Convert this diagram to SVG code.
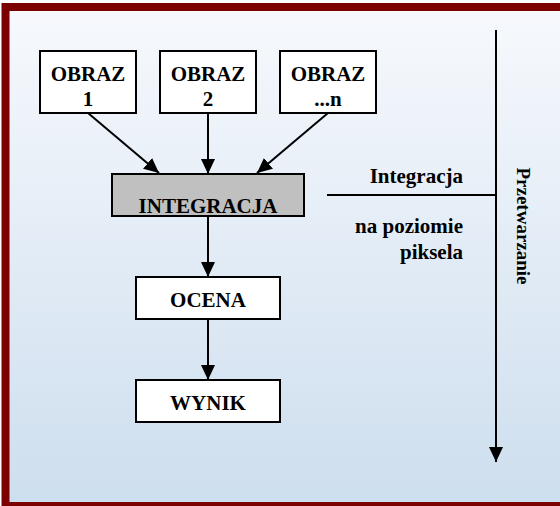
<svg xmlns="http://www.w3.org/2000/svg" width="560" height="506" viewBox="0 0 560 506">
<defs>
<linearGradient id="bg" x1="0" y1="0" x2="0" y2="1">
<stop offset="0" stop-color="#f7f9fd"/>
<stop offset="1" stop-color="#cddeee"/>
</linearGradient>
<marker id="arr" markerUnits="userSpaceOnUse" markerWidth="16" markerHeight="15" refX="15" refY="7" orient="auto">
<path d="M0,0 L15,7 L0,14 Z" fill="#000"/>
</marker>
</defs>
<style>
.box{fill:#fff;stroke:#000;stroke-width:2}
.gray{fill:#c0c0c0}
.t{font-family:"Liberation Serif","Times New Roman",serif;font-weight:bold;font-size:21px;fill:#000}
.c{text-anchor:middle}
.e{text-anchor:end}
.ln{stroke:#000;stroke-width:2;fill:none}
.a{marker-end:url(#arr)}
</style>
<rect x="0" y="0" width="560" height="506" fill="#fff"/>
<rect x="5.5" y="7" width="600" height="499" fill="url(#bg)" stroke="#7d0000" stroke-width="8"/>
<g id="connectors">
<line class="ln a" x1="88" y1="113" x2="159" y2="173"/>
<line class="ln a" x1="208" y1="113" x2="208" y2="174"/>
<line class="ln a" x1="328" y1="113" x2="257" y2="173"/>
<line class="ln a" x1="208" y1="216" x2="208" y2="277"/>
<line class="ln a" x1="208" y1="319" x2="208" y2="380"/>
<line class="ln a" x1="496" y1="30" x2="496" y2="462"/>
<line class="ln" x1="327" y1="195" x2="496" y2="195"/>
</g>
<g id="obraz1">
<rect class="box" x="40" y="51" width="96" height="62"/>
<text class="t c" x="88" y="81">OBRAZ</text>
<text class="t c" x="88" y="106">1</text>
</g>
<g id="obraz2">
<rect class="box" x="160" y="51" width="96" height="62"/>
<text class="t c" x="208" y="81">OBRAZ</text>
<text class="t c" x="208" y="106">2</text>
</g>
<g id="obrazn">
<rect class="box" x="280" y="51" width="96" height="62"/>
<text class="t c" x="328" y="81">OBRAZ</text>
<text class="t c" x="328" y="106">...n</text>
</g>
<g id="integracja">
<rect class="box gray" x="112" y="174" width="192" height="42"/>
<text class="t c" x="208" y="213">INTEGRACJA</text>
</g>
<g id="ocena">
<rect class="box" x="136" y="277" width="144" height="42"/>
<text class="t c" x="208" y="307">OCENA</text>
</g>
<g id="wynik">
<rect class="box" x="136" y="380" width="144" height="42"/>
<text class="t c" x="208" y="410">WYNIK</text>
</g>
<g id="labels">
<text class="t e" x="463" y="183">Integracja</text>
<text class="t e" x="463" y="233">na poziomie</text>
<text class="t e" x="463" y="259">piksela</text>
<text class="t c" style="font-size:19px" transform="translate(517,226) rotate(90)">Przetwarzanie</text>
</g>
</svg>
